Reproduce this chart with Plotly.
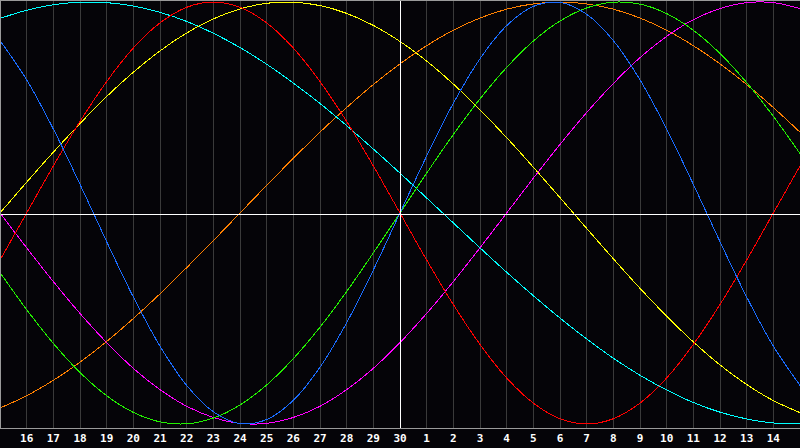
import plotly.graph_objects as go

# Day-of-month labels for each sampled day (centre line = day 30)
days = [15, 16, 17, 18, 19, 20, 21, 22, 23, 24, 25, 26, 27, 28, 29, 30,
        1, 2, 3, 4, 5, 6, 7, 8, 9, 10, 11, 12, 13, 14, 15]

blue = [0.817, 0.631, 0.398, 0.136, -0.136, -0.398, -0.631, -0.817, -0.942, -0.998, -0.979, -0.888, -0.731, -0.520, -0.270,
        0.000, 0.270, 0.520, 0.731, 0.888, 0.979, 0.998, 0.942, 0.817, 0.631, 0.398, 0.136, -0.136, -0.398, -0.631, -0.817]
red = [-0.223, 0.000, 0.223, 0.434, 0.623, 0.782, 0.901, 0.975, 1.000, 0.975, 0.901, 0.782, 0.623, 0.434, 0.223,
       0.000, -0.223, -0.434, -0.623, -0.782, -0.901, -0.975, -1.000, -0.975, -0.901, -0.782, -0.623, -0.434, -0.223, 0.000, 0.223]
green = [-0.282, -0.458, -0.618, -0.756, -0.866, -0.945, -0.990, -0.999, -0.972, -0.910, -0.815, -0.690, -0.541, -0.372, -0.189,
         0.000, 0.189, 0.372, 0.541, 0.690, 0.815, 0.910, 0.972, 0.999, 0.990, 0.945, 0.866, 0.756, 0.618, 0.458, 0.282]
magenta = [0.000, -0.165, -0.325, -0.476, -0.614, -0.736, -0.837, -0.916, -0.969, -0.997, -0.997, -0.969, -0.916, -0.837, -0.736,
           -0.614, -0.476, -0.325, -0.165, 0.000, 0.165, 0.325, 0.476, 0.614, 0.736, 0.837, 0.916, 0.969, 0.997, 0.997, 0.969]
yellow = [0.000, 0.146, 0.288, 0.424, 0.552, 0.667, 0.768, 0.853, 0.920, 0.967, 0.994, 0.999, 0.983, 0.946, 0.889,
          0.813, 0.720, 0.611, 0.489, 0.357, 0.217, 0.073, -0.073, -0.217, -0.357, -0.489, -0.611, -0.720, -0.813, -0.889, -0.946]
orange = [-0.924, -0.866, -0.793, -0.707, -0.609, -0.500, -0.383, -0.259, -0.131, 0.000, 0.131, 0.259, 0.383, 0.500, 0.609,
          0.707, 0.793, 0.866, 0.924, 0.966, 0.991, 1.000, 0.991, 0.966, 0.924, 0.866, 0.793, 0.707, 0.609, 0.500, 0.383]
cyan = [0.922, 0.961, 0.987, 0.999, 0.997, 0.981, 0.951, 0.908, 0.852, 0.784, 0.705, 0.616, 0.519, 0.414, 0.303,
        0.189, 0.071, -0.047, -0.165, -0.281, -0.392, -0.498, -0.597, -0.688, -0.769, -0.839, -0.898, -0.944, -0.976, -0.995, -1.000]

series = [
    ("orange", orange, "#ff8000"),
    ("cyan", cyan, "#00ffff"),
    ("yellow", yellow, "#ffff00"),
    ("magenta", magenta, "#ff00ff"),
    ("green", green, "#22f000"),
    ("red", red, "#ff0000"),
    ("blue", blue, "#1a6cff"),
]

pos = list(range(len(days)))
centre = days.index(30)

fig = go.Figure()
for name, vals, col in series:
    fig.add_trace(go.Scatter(x=pos, y=vals, mode="lines", name=name,
                             line=dict(color=col, width=1, shape="spline", smoothing=1),
                             hoverinfo="skip"))

W, H, B = 800, 448, 20
PH = H - B
amp = 211.0
zero_px = 213.0
y_top = zero_px / amp
y_bot = -(PH - zero_px) / amp

frame = "#9a9a9a"
fig.update_layout(
    width=W, height=H,
    margin=dict(l=0, r=0, t=0, b=B, pad=0),
    paper_bgcolor="#050408", plot_bgcolor="#050408",
    showlegend=False,
    xaxis=dict(range=[pos[0], pos[-1]], tickvals=pos[1:-1], ticktext=[str(d) for d in days[1:-1]],
               showgrid=True, gridcolor="#3a3a3a", gridwidth=1, zeroline=False,
               showline=False, ticks="", fixedrange=True, ticklabelstandoff=2,
               tickfont=dict(family="DejaVu Sans Mono", size=11, color="#ffffff", weight="bold")),
    yaxis=dict(range=[y_bot, y_top], showgrid=False, zeroline=False, showticklabels=False,
               showline=False, ticks="", fixedrange=True),
    shapes=[
        dict(type="line", xref="paper", yref="paper", x0=400.5 / W, x1=400.5 / W, y0=0, y1=1,
             line=dict(color="#ffffff", width=1), layer="above"),
        dict(type="line", xref="paper", yref="paper", x0=0, x1=1, y0=1 - 214.5 / PH, y1=1 - 214.5 / PH,
             line=dict(color="#ffffff", width=1), layer="above"),
        dict(type="line", xref="paper", yref="paper", x0=0.5 / W, x1=0.5 / W, y0=0, y1=1,
             line=dict(color=frame, width=1), layer="above"),
        dict(type="line", xref="paper", yref="paper", x0=0, x1=1, y0=1 - 0.5 / PH, y1=1 - 0.5 / PH,
             line=dict(color=frame, width=1), layer="above"),
        dict(type="line", xref="paper", yref="paper", x0=0, x1=1, y0=-0.5 / PH, y1=-0.5 / PH,
             line=dict(color=frame, width=1), layer="above"),
    ],
)

post = ("document.body.style.margin='0';"
        "document.querySelectorAll('.scatterlayer path, .shapelayer path')"
        ".forEach(p => p.style.shapeRendering='crispEdges');")
fig.write_html("out.html", post_script=post, config={"displayModeBar": False, "staticPlot": True})
